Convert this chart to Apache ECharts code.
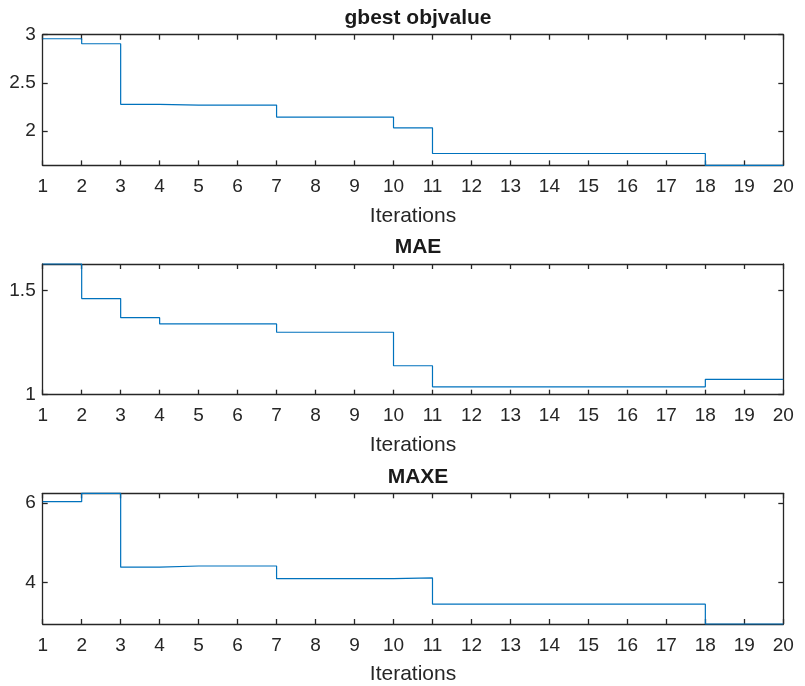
<!DOCTYPE html>
<html>
<head>
<meta charset="utf-8">
<script src="https://cdn.jsdelivr.net/npm/echarts@6/dist/echarts.min.js"></script>
<style>html,body{margin:0;padding:0;background:#fff;}#c{width:805px;height:686px;}</style>
</head>
<body>
<div id="c"></div>
<script>
var iterations = [1,2,3,4,5,6,7,8,9,10,11,12,13,14,15,16,17,18,19,20];
var gbestObj = [2.958,2.906,2.275,2.268,2.268,2.268,2.143,2.143,2.143,2.031,1.764,1.764,1.764,1.764,1.764,1.764,1.764,1.64,1.64,1.64];
var maeVals = [1.628,1.462,1.370,1.340,1.340,1.340,1.300,1.300,1.300,1.139,1.038,1.038,1.038,1.038,1.038,1.038,1.038,1.074,1.074,1.074];
var maxeVals = [6.04,6.25,4.39,4.42,4.42,4.42,4.10,4.10,4.10,4.12,3.46,3.46,3.46,3.46,3.46,3.46,3.46,2.96,2.96,2.96];
var titles = ['gbest objvalue','MAE','MAXE'];
var yLimits = [[1.64,3.0],[1.0,1.628],[2.96,6.25]];
var yTicks = [[2,2.5,3],[1,1.5],[4,6]];
var xLabel = 'Iterations';

var series = [gbestObj, maeVals, maxeVals];
var tops = [34.7, 264, 493.3];
var H = 130.7;
var axisColor = '#262626';
var font = 'Liberation Sans, Arial, sans-serif';

var opt = {animation:false, backgroundColor:'#fff', title:[], grid:[], xAxis:[], yAxis:[], series:[]};
for (var i=0;i<3;i++){
  opt.title.push({text:titles[i], left:413, textAlign:'center', top:tops[i]-32,
    textStyle:{fontFamily:font, fontSize:21, fontWeight:'bold', color:'#1a1a1a'}});
  opt.grid.push({left:42.7, right:21.7, top:tops[i], height:H, containLabel:false, outerBoundsMode:'none'});
  opt.xAxis.push({type:'value', gridIndex:i, min:1, max:20, interval:1, position:'bottom',
    name:xLabel, nameLocation:'middle', nameGap:40,
    nameTextStyle:{fontFamily:font, fontSize:21, color:'#262626'},
    axisLine:{show:true, onZero:false, lineStyle:{color:axisColor, width:1.3}},
    axisTick:{show:true, inside:true, length:5, lineStyle:{color:axisColor, width:1.3}},
    axisLabel:{show:true, margin:12, fontFamily:font, fontSize:19, color:'#262626'},
    splitLine:{show:false}});
  opt.xAxis.push({type:'value', gridIndex:i, min:1, max:20, interval:1, position:'top',
    axisLine:{show:true, onZero:false, lineStyle:{color:axisColor, width:1.3}},
    axisTick:{show:true, inside:true, length:5, lineStyle:{color:axisColor, width:1.3}},
    axisLabel:{show:false}, splitLine:{show:false}});
  opt.yAxis.push({type:'value', gridIndex:i, min:yLimits[i][0], max:yLimits[i][1], position:'left',
    axisLine:{show:true, onZero:false, lineStyle:{color:axisColor, width:1.3}},
    axisTick:{show:true, inside:true, length:5, customValues:yTicks[i], lineStyle:{color:axisColor, width:1.3}},
    axisLabel:{show:true, margin:7, customValues:yTicks[i], fontFamily:font, fontSize:19, color:'#262626'},
    splitLine:{show:false}});
  opt.yAxis.push({type:'value', gridIndex:i, min:yLimits[i][0], max:yLimits[i][1], position:'right',
    axisLine:{show:true, onZero:false, lineStyle:{color:axisColor, width:1.3}},
    axisTick:{show:true, inside:true, length:5, customValues:yTicks[i], lineStyle:{color:axisColor, width:1.3}},
    axisLabel:{show:false}, splitLine:{show:false}});
  var data = iterations.map(function(x,k){return [x, series[i][k]];});
  opt.series.push({type:'line', xAxisIndex:2*i, yAxisIndex:2*i, data:data, step:'end',
    showSymbol:false, symbol:'none', lineStyle:{color:'#0072BD', width:1.2}, silent:true, clip:false});
}
var chart = echarts.init(document.getElementById('c'), null, {renderer:'canvas'});
chart.setOption(opt);
</script>
</body>
</html>
